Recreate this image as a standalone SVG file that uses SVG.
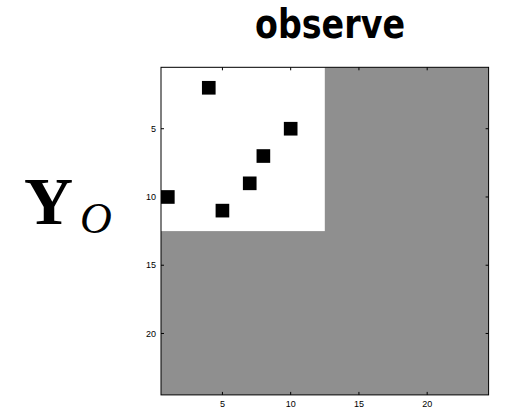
<svg xmlns="http://www.w3.org/2000/svg" width="505" height="409" viewBox="0 0 505 409">
  <style>
    .tick { stroke: #000; stroke-width: 1; }
    .lbl { font-family: "Liberation Sans", Arial, sans-serif; font-size: 9px; fill: #000; }
    .cell { fill: #000; }
  </style>
  <rect width="505" height="409" fill="#fff"/>
  <text x="330" y="38" text-anchor="middle" font-family="DejaVu Sans, sans-serif" font-weight="bold" font-size="40" textLength="150" lengthAdjust="spacingAndGlyphs">observe</text>
  <g id="ylabel">
    <text x="24" y="224" font-family="Liberation Serif, serif" font-weight="bold" font-size="68">Y</text>
    <text x="80" y="233" font-family="Liberation Serif, serif" font-style="italic" font-size="44">O</text>
  </g>
  <g id="plot">
    <rect x="161" y="67.3" width="327.6" height="327.6" fill="#8f8f8f"/>
    <rect x="161" y="67.3" width="163.8" height="163.8" fill="#fff"/>
    <rect class="cell" x="201.95" y="80.95" width="13.65" height="13.65"/>
    <rect class="cell" x="283.85" y="121.9" width="13.65" height="13.65"/>
    <rect class="cell" x="256.55" y="149.2" width="13.65" height="13.65"/>
    <rect class="cell" x="242.9" y="176.5" width="13.65" height="13.65"/>
    <rect class="cell" x="161" y="190.15" width="13.65" height="13.65"/>
    <rect class="cell" x="215.6" y="203.8" width="13.65" height="13.65"/>
    <g class="tick">
      <path d="M222.43 67.3v3M290.68 67.3v3M358.93 67.3v3M427.18 67.3v3"/>
      <path d="M222.43 394.9v-3M290.68 394.9v-3M358.93 394.9v-3M427.18 394.9v-3"/>
      <path d="M161 128.73h3M161 196.98h3M161 265.23h3M161 333.48h3"/>
      <path d="M488.6 128.73h-3M488.6 196.98h-3M488.6 265.23h-3M488.6 333.48h-3"/>
    </g>
    <rect x="161" y="67.3" width="327.6" height="327.6" fill="none" stroke="#000" stroke-width="1"/>
    <g class="lbl" text-anchor="middle">
      <text x="222.43" y="407">5</text>
      <text x="290.68" y="407">10</text>
      <text x="358.93" y="407">15</text>
      <text x="427.18" y="407">20</text>
    </g>
    <g class="lbl" text-anchor="end">
      <text x="156" y="131.9">5</text>
      <text x="156" y="200.2">10</text>
      <text x="156" y="268.4">15</text>
      <text x="156" y="336.7">20</text>
    </g>
  </g>
</svg>
